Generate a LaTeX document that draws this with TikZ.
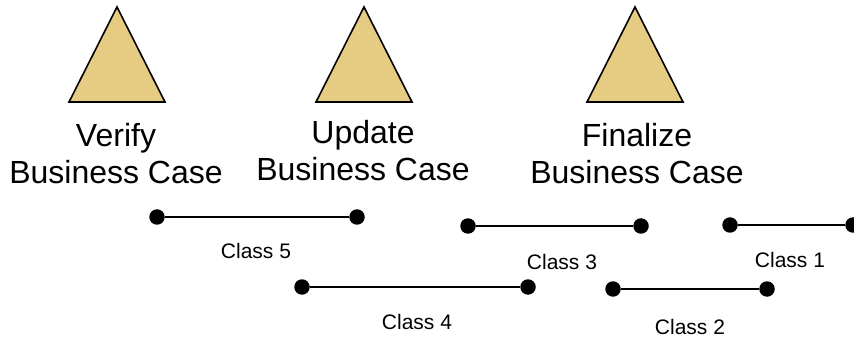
\documentclass[tikz,border=0pt]{standalone}
\usepackage{fontspec}
\setmainfont{Liberation Sans}
\definecolor{tan}{RGB}{230,203,130}
\begin{document}
\begin{tikzpicture}[x=1pt,y=-1pt,
  tri/.style={fill=tan,draw=black,line width=1.6pt,line join=miter},
  title/.style={align=center,font=\fontsize{32}{37}\selectfont,inner sep=0pt},
  dot/.style={circle,fill=black,inner sep=0pt,minimum size=15.5pt},
  seg/.style={line width=2.8pt},
  lab/.style={font=\fontsize{21}{24}\selectfont,inner sep=0pt}]
\useasboundingbox (0,0) rectangle (854,339);
% triangles
\draw[tri] (117,7) -- (165,102) -- (69,102) -- cycle;
\draw[tri] (364,7) -- (412,102) -- (316,102) -- cycle;
\draw[tri] (635,7) -- (683,102) -- (587,102) -- cycle;
% titles
\node[title] (t1) at (116,154) {Verify\\Business Case};
\node[title] (t2) at (363,151) {Update\\Business Case};
\node[title] (t3) at (637,154) {Finalize\\Business Case};
% class 5
\node[dot] (a5) at (157,217) {};
\node[dot] (b5) at (357,217) {};
\draw[seg] (a5) -- (b5);
\node[lab] (l5) at (256,251) {Class 5};
% class 3
\node[dot] (a3) at (468,226) {};
\node[dot] (b3) at (641,226) {};
\draw[seg] (a3) -- (b3);
\node[lab] (l3) at (562,262) {Class 3};
% class 1
\node[dot] (a1) at (730,225) {};
\node[dot] (b1) at (853,225) {};
\draw[seg] (a1) -- (b1);
\node[lab] (l1) at (790,260) {Class 1};
% class 4
\node[dot] (a4) at (302,287) {};
\node[dot] (b4) at (528,287) {};
\draw[seg] (a4) -- (b4);
\node[lab] (l4) at (417,322) {Class 4};
% class 2
\node[dot] (a2) at (613,289) {};
\node[dot] (b2) at (767,289) {};
\draw[seg] (a2) -- (b2);
\node[lab] (l2) at (690,327) {Class 2};
\end{tikzpicture}
\end{document}
